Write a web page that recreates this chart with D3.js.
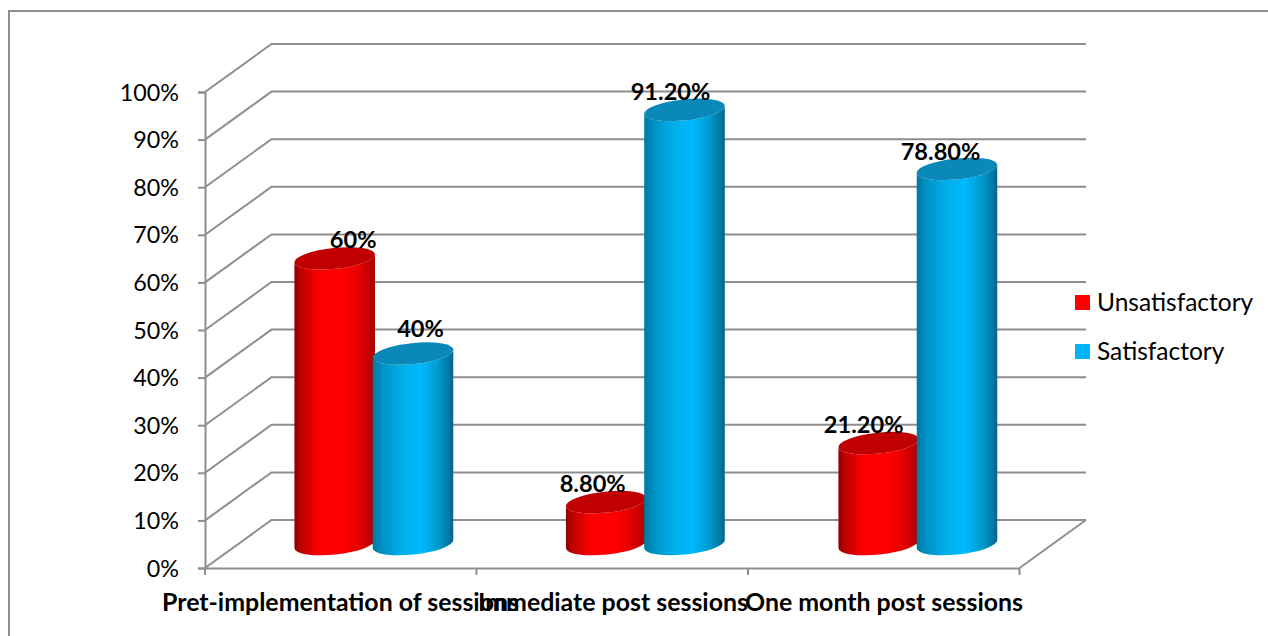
<!DOCTYPE html>
<html>
<head>
<meta charset="utf-8">
<style>
html,body{margin:0;padding:0;background:#fff;}
svg{display:block;}
text{font-family:Lato,"Open Sans",sans-serif;fill:#000;}
</style>
<script src="https://cdn.jsdelivr.net/npm/d3@7/dist/d3.min.js"></script>
</head>
<body>
<svg id="chart" width="1268" height="636"></svg>
<script>
const categories = ["Pret-implementation of sessions", "Immediate post sessions", "One month post sessions"];
const seriesNames = ["Unsatisfactory", "Satisfactory"];
const unsatisfactory = [60, 8.8, 21.2];
const satisfactory = [40, 91.2, 78.8];
const valueLabels = [["60%", "8.80%", "21.20%"], ["40%", "91.20%", "78.80%"]];
const yTicks = [0, 10, 20, 30, 40, 50, 60, 70, 80, 90, 100];
const seriesValues = [unsatisfactory, satisfactory];

const svg = d3.select("#chart");

// Plot box: front edge of the floor plus the depth offset of the back wall.
const frontLeft = 205, frontRight = 1019.5, frontBottom = 568, frontTop = 92;
const depthX = 66.5, depthY = -48;
const grey = "#8e8e8e";

const x = d3.scaleBand().domain(categories).range([frontLeft, frontRight]);
const y = d3.scaleLinear().domain([0, 100]).range([frontBottom, frontTop]);

// Chart frame: only its top and left edges fall inside the view
svg.append("path").attr("d", "M9,636 L9,11 L1268,11")
  .attr("fill", "none").attr("stroke", grey).attr("stroke-width", 2);

const defs = svg.append("defs");
const gradients = [
  {id: "cyl-red", stops: [[0, "#8f0000"], [0.1, "#c40000"], [0.3, "#fa0000"], [0.6, "#ff0000"], [0.8, "#e60000"], [1, "#a80000"]]},
  {id: "cyl-blue", stops: [[0, "#0077a3"], [0.12, "#0092c4"], [0.35, "#00aee8"], [0.6, "#00b9ff"], [0.82, "#0098cc"], [1, "#00678e"]]}
];
gradients.forEach(g => {
  const lg = defs.append("linearGradient").attr("id", g.id).attr("x1", 0).attr("x2", 1).attr("y1", 0).attr("y2", 0);
  g.stops.forEach(s => lg.append("stop").attr("offset", s[0]).attr("stop-color", s[1]));
});

// Gridlines: side wall diagonal, then back wall horizontal
const grid = svg.append("g").attr("fill", "none").attr("stroke", grey).attr("stroke-width", 2);
yTicks.forEach(t => {
  const line = d3.path();
  line.moveTo(frontLeft, y(t));
  line.lineTo(frontLeft + depthX, y(t) + depthY);
  line.lineTo(frontRight + depthX, y(t) + depthY);
  grid.append("path").attr("d", line.toString());
});
// Floor right edge
const floorEdge = d3.path();
floorEdge.moveTo(frontRight, y(0));
floorEdge.lineTo(frontRight + depthX, y(0) + depthY);
grid.append("path").attr("d", floorEdge.toString());

// Value axis
const yAxis = d3.axisLeft(y).tickValues(yTicks).tickFormat(d => d + "%").tickSize(7).tickPadding(19);
const yG = svg.append("g").attr("transform", `translate(${frontLeft},0)`).call(yAxis);
yG.selectAll("path,line").attr("stroke", grey).attr("stroke-width", 2);
yG.selectAll("text").attr("font-size", 23.3).style("font-family", "Lato").attr("dy", "0.35em");

// Category axis
const xAxis = d3.axisBottom(x).tickValues([]).tickSizeOuter(0);
const xG = svg.append("g").attr("transform", `translate(0,${frontBottom})`).call(xAxis);
xG.select("path").attr("stroke", grey).attr("stroke-width", 2);
const xTicks = [...categories.map(c => x(c)), frontRight];
xG.selectAll("line.tick-mark").data(xTicks).enter().append("line").attr("class", "tick-mark")
  .attr("x1", d => d).attr("x2", d => d).attr("y1", 0).attr("y2", 7)
  .attr("stroke", grey).attr("stroke-width", 2);

// Category labels overlap on purpose: they are wider than their band
const catCentres = [340.5, 613, 884];
svg.append("g").selectAll("text").data(categories).enter().append("text")
  .attr("x", (d, i) => catCentres[i]).attr("y", 611)
  .attr("text-anchor", "middle").attr("font-size", 24.9).attr("font-weight", 700)
  .text(d => d);

// Cylinders: body with a horizontal shading, darker elliptical cap on top
const cylinderWidth = 81, baseOffset = 24;
const rx = cylinderWidth / 2, ry = 10.5, tilt = -6;
const rad = tilt * Math.PI / 180;
const ex = rx * Math.cos(rad), ey = rx * Math.sin(rad);
const seriesOffset = [129.7, 208];
const groupNudge = [0, 0, 1];
const capColours = ["#c00000", "#0a88b8"];
const bodyFill = ["url(#cyl-red)", "url(#cyl-blue)"];
const cylinderX = (i, s) => x(categories[i]) + seriesOffset[s] + groupNudge[i];
const cylinderTop = v => y(v) - baseOffset;

const bars = svg.append("g");
seriesValues.forEach((vals, s) => {
  vals.forEach((v, i) => {
    const cx = cylinderX(i, s);
    const yBase = cylinderTop(0);
    const yTop = cylinderTop(v);
    const body = `M${cx - ex},${yTop - ey} L${cx - ex},${yBase - ey}` +
      ` A${rx},${ry} ${tilt} 0 0 ${cx + ex},${yBase + ey}` +
      ` L${cx + ex},${yTop + ey}` +
      ` A${rx},${ry} ${tilt} 0 1 ${cx - ex},${yTop - ey} Z`;
    bars.append("path").attr("d", body).attr("fill", bodyFill[s]);
    bars.append("ellipse").attr("cx", 0).attr("cy", 0).attr("rx", rx).attr("ry", ry)
      .attr("transform", `translate(${cx},${yTop}) rotate(${tilt})`)
      .attr("fill", capColours[s]);
  });
});

// Data labels sit on the caps, nudged the way the chart places them
const labelShiftX = [[18.5, -13.5, -15], [7.5, -14, -16.5]];
const labelShiftY = [[-10, -10, -10], [-17, -10, -9]];
const labels = svg.append("g");
seriesValues.forEach((vals, s) => {
  vals.forEach((v, i) => {
    labels.append("text")
      .attr("x", cylinderX(i, s) + labelShiftX[s][i]).attr("y", cylinderTop(v) + labelShiftY[s][i])
      .attr("text-anchor", "middle").attr("font-size", 23.6).attr("font-weight", 700)
      .text(valueLabels[s][i]);
  });
});

// Legend
const legendColours = ["#ff0000", "#00b5f5"];
const legend = svg.append("g").selectAll("g").data(seriesNames).enter().append("g")
  .attr("transform", (d, i) => `translate(1075,${295 + i * 49})`);
legend.append("rect").attr("width", 15).attr("height", 15).attr("fill", (d, i) => legendColours[i]);
legend.append("text").attr("x", 22).attr("y", 15.5).attr("font-size", 24.5).text(d => d);
</script>
</body>
</html>
